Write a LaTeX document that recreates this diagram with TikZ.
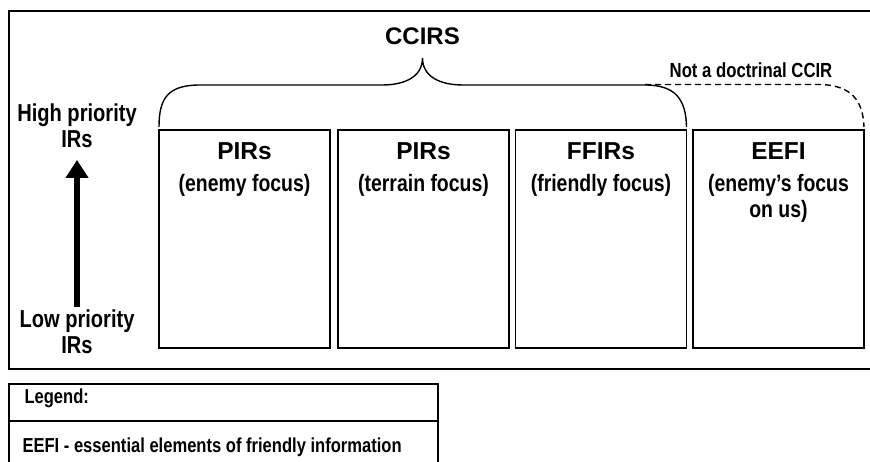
\documentclass[tikz,border=0pt]{standalone}
\usepackage{fontspec}
\setmainfont{Liberation Sans}
\newfontfamily\narrowsans[FakeStretch=0.82]{Liberation Sans}
\usetikzlibrary{arrows.meta,calc}
\begin{document}
\begin{tikzpicture}[x=1pt,y=-1pt,
  every node/.style={inner sep=0pt, outer sep=0pt},
  heading/.style={anchor=base, font=\fontsize{24}{28}\selectfont\bfseries},
  boxtitle/.style={anchor=base, font=\fontsize{24.5}{28}\selectfont\bfseries},
  boxsub/.style={anchor=base, font=\narrowsans\fontsize{23.7}{28}\selectfont\bfseries},
  sidetext/.style={anchor=base, font=\narrowsans\fontsize{24.5}{28}\selectfont\bfseries},
  notetext/.style={anchor=base, font=\narrowsans\fontsize{20.4}{24}\selectfont\bfseries},
  legendtext/.style={anchor=base west, font=\narrowsans\fontsize{20.2}{24}\selectfont\bfseries},
  frameline/.style={line width=2pt},
  irbox/.style={draw, line width=1.8pt, minimum width=171pt, minimum height=218pt, anchor=north west},
  braceline/.style={line width=1.4pt},
  dashline/.style={line width=1.4pt, dash pattern=on 6pt off 4pt},
  priority/.style={line width=6.5pt, -{Triangle[width=22pt,length=18pt]}}
]
\useasboundingbox (0,0) rectangle (870,462);
\clip (0,0) rectangle (870,462);

% outer frame (open on the right)
\draw[frameline] (880,11) -- (9,11) -- (9,369) -- (880,369);

% requirement boxes
\node[irbox] (pirE) at (159,130) {};
\node[irbox] (pirT) at (338,130) {};
\node[irbox] (ffir) at (515.5,130) {};
\node[irbox] (eefi) at (693,130) {};

\node[boxtitle] (pirEt) at ($(pirE.north)+(0,30)$) {PIRs};
\node[boxsub]   (pirEs) at ($(pirE.north)+(0,62)$) {(enemy focus)};
\node[boxtitle] (pirTt) at ($(pirT.north)+(0,30)$) {PIRs};
\node[boxsub]   (pirTs) at ($(pirT.north)+(0,62)$) {(terrain focus)};
\node[boxtitle] (ffirt) at ($(ffir.north)+(0,30)$) {FFIRs};
\node[boxsub]   (ffirs) at ($(ffir.north)+(0,62)$) {(friendly focus)};
\node[boxtitle] (eefit) at ($(eefi.north)+(0,30)$) {EEFI};
\node[boxsub]   (eefis) at ($(eefi.north)+(0,62)$) {(enemy’s focus};
\node[boxsub]   (eefiu) at ($(eefi.north)+(0,88)$) {on us)};

% CCIR brace
\node[heading] (ccirs) at (422.5,45) {CCIRS};
\coordinate (braceL) at ($(pirE.north west)+(0,-3)$);
\coordinate (braceR) at ($(ffir.north east)+(0,-3)$);
\coordinate (braceTip) at (422.5,58);
\draw[braceline] (braceL) .. controls (159,98) and (168,85) .. (200,85)
  -- (382,85) .. controls (406,85) and (422.5,76) .. (braceTip)
  .. controls (422.5,76) and (439,85) .. (463,85)
  -- (645,85) .. controls (676,85) and (686,100) .. (braceR);

% EEFI lies outside doctrinal CCIR
\node[notetext] (notelbl) at (751,78) {Not a doctrinal CCIR};
\coordinate (dashR) at ($(eefi.north east)+(0,-3)$);
\draw[dashline] (645,84.5) -- (822,84.5) .. controls (851,86) and (863,100) .. (dashR);

% priority scale
\node[sidetext] (hi1) at (77,122) {High priority};
\node[sidetext] (hi2) at (77,148) {IRs};
\node[sidetext] (lo1) at (77,327) {Low priority};
\node[sidetext] (lo2) at (77,353) {IRs};
\coordinate (arrowBase) at (77,307);
\coordinate (arrowTip) at (77,160);
\draw[priority] (arrowBase) -- (arrowTip);

% legend
\draw[frameline] (9,384) rectangle (438,480);
\draw[frameline] (9,421) -- (438,421);
\node[legendtext] (legHead) at (24.5,403) {Legend:};
\node[legendtext] (legEEFI) at (22.5,452) {EEFI - essential elements of friendly information};
\end{tikzpicture}
\end{document}
